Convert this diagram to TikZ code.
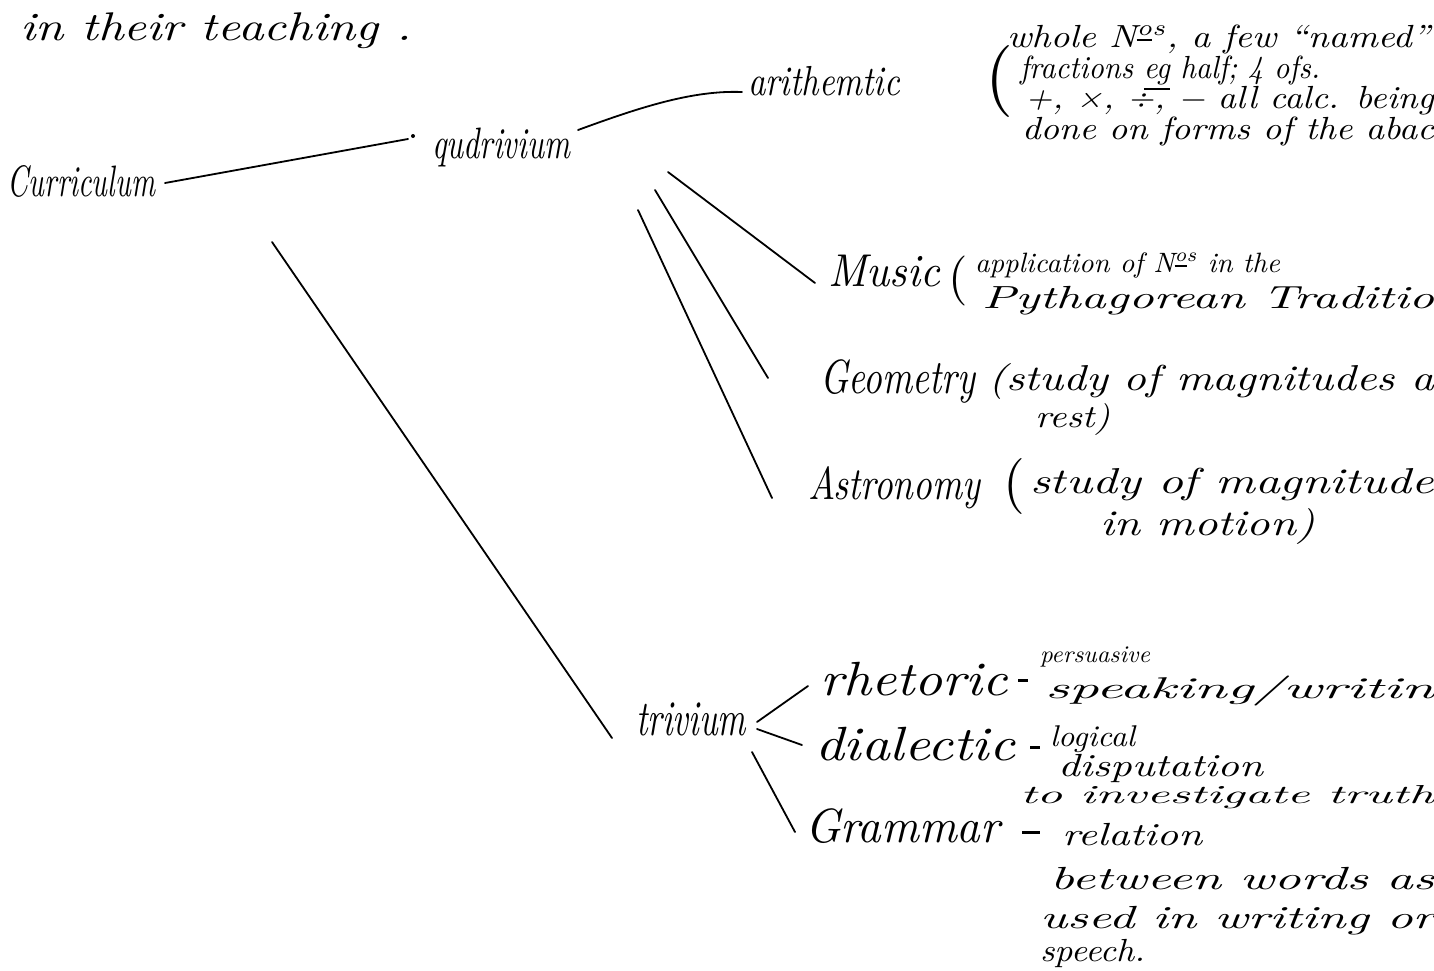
\documentclass[tikz,border=0pt]{standalone}
\usepackage{fontspec}
\setmainfont{Latin Modern Roman}
\usepackage{graphicx}
\newsavebox\hwbox
% #1 nominal font size (pt), #2 target width (pt), #3 text
\newcommand{\fitx}[3]{\sbox\hwbox{\fontsize{10pt}{12pt}\selectfont\itshape #3}\pgfmathsetmacro\hwratio{#2/\wd\hwbox}\pgfmathsetmacro\hwyratio{#1/10}\scalebox{\hwratio}[\hwyratio]{\usebox\hwbox}}
\newcommand{\paren}[2]{\resizebox*{!}{#1pt}{#2}}
\newcommand{\hdash}[1]{\rule[6pt]{#1pt}{2.6pt}}
\begin{document}
\begin{tikzpicture}[x=1pt,y=-1pt,
  hw/.style={anchor=base west,inner sep=0pt,outer sep=0pt},
  br/.style={anchor=north west,inner sep=0pt,outer sep=0pt},
  ln/.style={line width=1.8pt,line cap=round}]
\useasboundingbox (0,0) rectangle (1434,970);
\clip (0,0) rectangle (1434,970);
\fill[white] (0,0) rectangle (1434,970);

% top line
\node[hw] (intro) at (20,40) {\fitx{40}{392}{in their teaching .}};

% main branches
\node[hw] (cur) at (8,196) {\fitx{44}{147}{Curriculum}};
\node[hw] (quad) at (432,158) {\fitx{44}{138}{qudrivium}};
\node[hw] (triv) at (636,735) {\fitx{50}{110}{trivium}};

% quadrivium: arithmetic
\node[hw] (arith) at (748,95) {\fitx{42}{152}{arithemtic}};
\node[br] (arbr) at (985,45) {\paren{72}{(}};
\node[hw] (ar1) at (1007,47) {\fitx{32}{423}{whole N\textsuperscript{\underline{o}s}, a few ``named''}};
\node[hw] (ar2) at (1020,78) {\fitx{32}{300}{fractions \underline{eg} half; 4 ofs.}};
\node[hw] (ar3) at (1025,108) {\fitx{32}{409}{+, ×, ÷, − all calc. being}};
\node[hw] (ar4) at (1022,139) {\fitx{32}{412}{done on forms of the abac}};

% music
\node[hw] (music) at (828,286) {\fitx{46}{112}{Music}};
\node[br] (mubr) at (948,256) {\paren{50}{(}};
\node[hw] (mu1) at (975,272) {\fitx{28}{305}{application of N\textsuperscript{\underline{o}s} in the}};
\node[hw] (mu2) at (982,308) {\fitx{32}{452}{Pythagorean Traditio}};

% geometry
\node[hw] (geom) at (820,393) {\fitx{48}{155}{Geometry}};
\node[hw] (ge1) at (988,390) {\fitx{36}{446}{(study of magnitudes a}};
\node[hw] (ge2) at (1035,427) {\fitx{32}{75}{rest)}};

% astronomy
\node[hw] (astro) at (808,499) {\fitx{46}{172}{Astronomy}};
\node[br] (asbr) at (1003,458) {\paren{56}{(}};
\node[hw] (as1) at (1030,493) {\fitx{36}{404}{study of magnitude}};
\node[hw] (as2) at (1100,535) {\fitx{36}{215}{in motion)}};

% trivium
\node[hw] (rhet) at (820,695) {\fitx{48}{188}{rhetoric}};
\node[hw] (rh0) at (1018,688) {\hdash{10}};
\node[hw] (rh1) at (1040,662) {\fitx{24}{110}{persuasive}};
\node[hw] (rh2) at (1045,698) {\fitx{30}{389}{speaking/writin}};

\node[hw] (dial) at (815,760) {\fitx{48}{200}{dialectic}};
\node[hw] (di0) at (1030,755) {\hdash{10}};
\node[hw] (di1) at (1050,746) {\fitx{30}{85}{logical}};
\node[hw] (di2) at (1058,776) {\fitx{32}{205}{disputation}};
\node[hw] (di3) at (1020,803) {\fitx{26}{414}{to investigate truth}};

\node[hw] (gram) at (805,842) {\fitx{48}{195}{Grammar}};
\node[hw] (gr0) at (1022,840) {\hdash{18}};
\node[hw] (gr1) at (1062,845) {\fitx{32}{140}{relation}};
\node[hw] (gr2) at (1050,889) {\fitx{32}{384}{between words as}};
\node[hw] (gr3) at (1040,928) {\fitx{32}{394}{used in writing or}};
\node[hw] (gr4) at (1040,961) {\fitx{32}{105}{speech.}};

% connectors
\draw[ln] ([shift={(10,-13)}]cur.base east) -- ([shift={(-24,-19)}]quad.base west);
\fill ([shift={(-19,-22)}]quad.base west) circle (2);
\draw[ln] ([shift={(8,-28)}]quad.base east) .. controls +(60,-22) and +(-50,-2) .. ([shift={(-6,-3)}]arith.base west);
\draw[ln] ([shift={(98,14)}]quad.base east) -- ([shift={(-13,-3)}]music.base west);
\draw[ln] ([shift={(85,32)}]quad.base east) -- ([shift={(-52,-15)}]geom.base west);
\draw[ln] ([shift={(68,52)}]quad.base east) -- ([shift={(-36,-1)}]astro.base west);
\draw[ln] ([shift={(117,46)}]cur.base east) -- ([shift={(-24,3)}]triv.base west);
\draw[ln] ([shift={(11,-13)}]triv.base east) -- ([shift={(-12,-9)}]rhet.base west);
\draw[ln] ([shift={(11,-6)}]triv.base east) -- ([shift={(-13,-15)}]dial.base west);
\draw[ln] ([shift={(6,17)}]triv.base east) -- ([shift={(-10,-10)}]gram.base west);
\end{tikzpicture}
\end{document}
